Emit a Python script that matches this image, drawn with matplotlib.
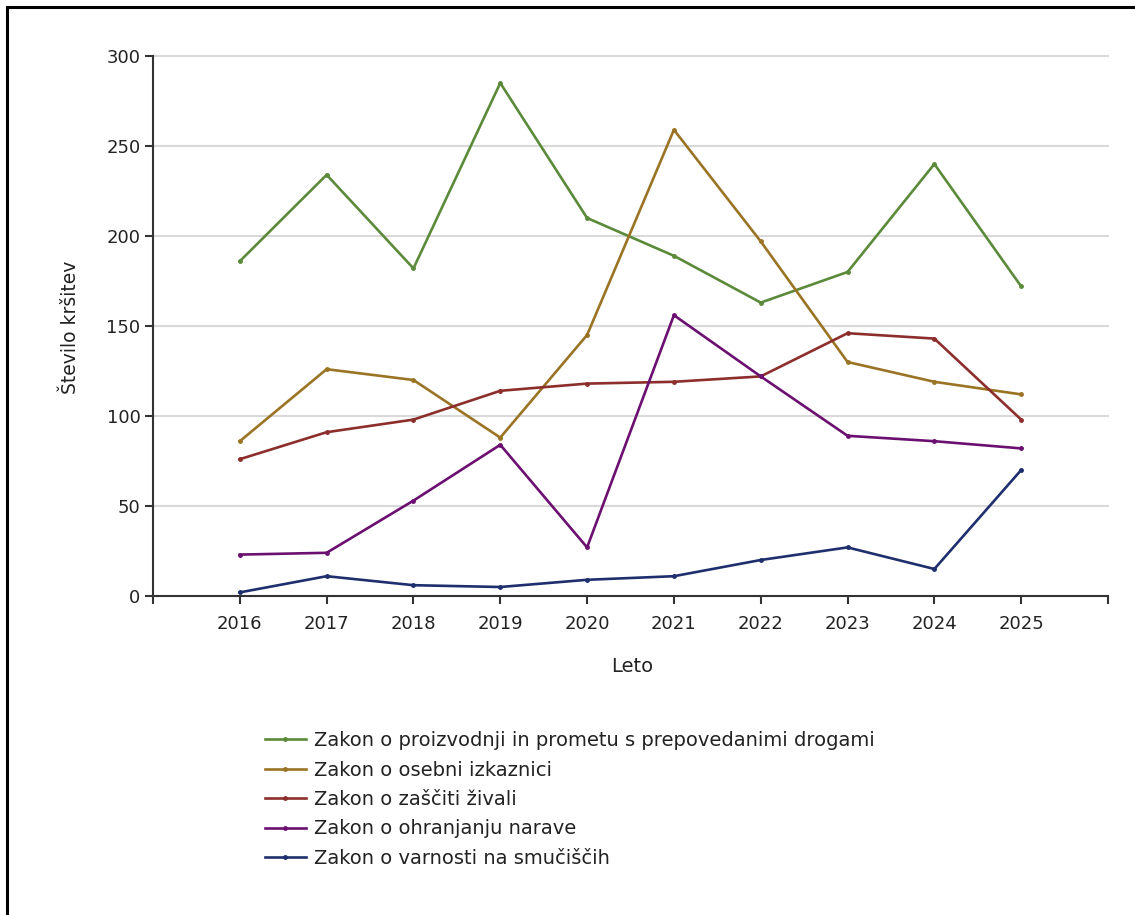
import matplotlib
matplotlib.use("Agg")
import matplotlib.pyplot as plt
from matplotlib.patches import Rectangle

years = [2016, 2017, 2018, 2019, 2020, 2021, 2022, 2023, 2024, 2025]
droge = [186, 234, 182, 285, 210, 189, 163, 180, 240, 172]
izkaznica = [86, 126, 120, 88, 145, 259, 197, 130, 119, 112]
zivali = [76, 91, 98, 114, 118, 119, 122, 146, 143, 98]
narava = [23, 24, 53, 84, 27, 156, 122, 89, 86, 82]
smucisca = [2, 11, 6, 5, 9, 11, 20, 27, 15, 70]

labels = [
    "Zakon o proizvodnji in prometu s prepovedanimi drogami",
    "Zakon o osebni izkaznici",
    "Zakon o zaščiti živali",
    "Zakon o ohranjanju narave",
    "Zakon o varnosti na smučiščih",
]
series = [droge, izkaznica, zivali, narava, smucisca]
colors = ["#5b8a3a", "#9a7424", "#8c2f2c", "#6b1070", "#1f2f6e"]

plt.rcParams['font.family'] = ['DejaVu Sans']

W, H = 1135, 915
fig = plt.figure(figsize=(W / 100, H / 100), dpi=100)
fig.patches.append(Rectangle((7 / W, -0.1), 1.2, 1 - 7 / H + 0.1, transform=fig.transFigure,
                             fill=False, edgecolor='black', linewidth=2.2))

ax = fig.add_axes([153 / W, 1 - 596 / H, (1108 - 153) / W, (596 - 56) / H])
for vals, c, lab in zip(series, colors, labels):
    ax.plot(years, vals, color=c, linewidth=1.9, marker='o', markersize=2.5, label=lab)

ax.set_xlim(2015, 2026)
ax.set_ylim(0, 300)
ax.set_xticks(list(range(2015, 2027)))
ax.set_xticklabels([""] + [str(y) for y in years] + [""])
ax.set_yticks([0, 50, 100, 150, 200, 250, 300])
ax.yaxis.grid(True, color='#d9d9d9', linewidth=1.5)
for gl in ax.get_ygridlines():
    gl.set_clip_on(False)
ax.set_axisbelow(True)
for s in ['top', 'right']:
    ax.spines[s].set_visible(False)
for s in ['left', 'bottom']:
    ax.spines[s].set_color('#333333')
    ax.spines[s].set_linewidth(1.5)
ax.tick_params(axis='both', length=6, width=1.5, color='#333333', labelsize=13, labelcolor='#222222')
ax.tick_params(axis='x', pad=8)
ax.tick_params(axis='y', pad=3)

fig.text(70 / W, 1 - 327 / H, "Število kršitev", rotation=90, ha='center', va='center',
         fontsize=13.5, color='#222222')
fig.text(632 / W, 1 - 667 / H, "Leto", ha='center', va='center', fontsize=14, color='#222222')

leg = fig.legend(loc='upper left', bbox_to_anchor=(265 / W, 1 - 731 / H), frameon=False,
                 fontsize=14, handlelength=2.1, labelspacing=0.54, handletextpad=0.4,
                 borderaxespad=0, borderpad=0)
for t in leg.get_texts():
    t.set_color('#222222')

fig.savefig("out.png", dpi=100)
